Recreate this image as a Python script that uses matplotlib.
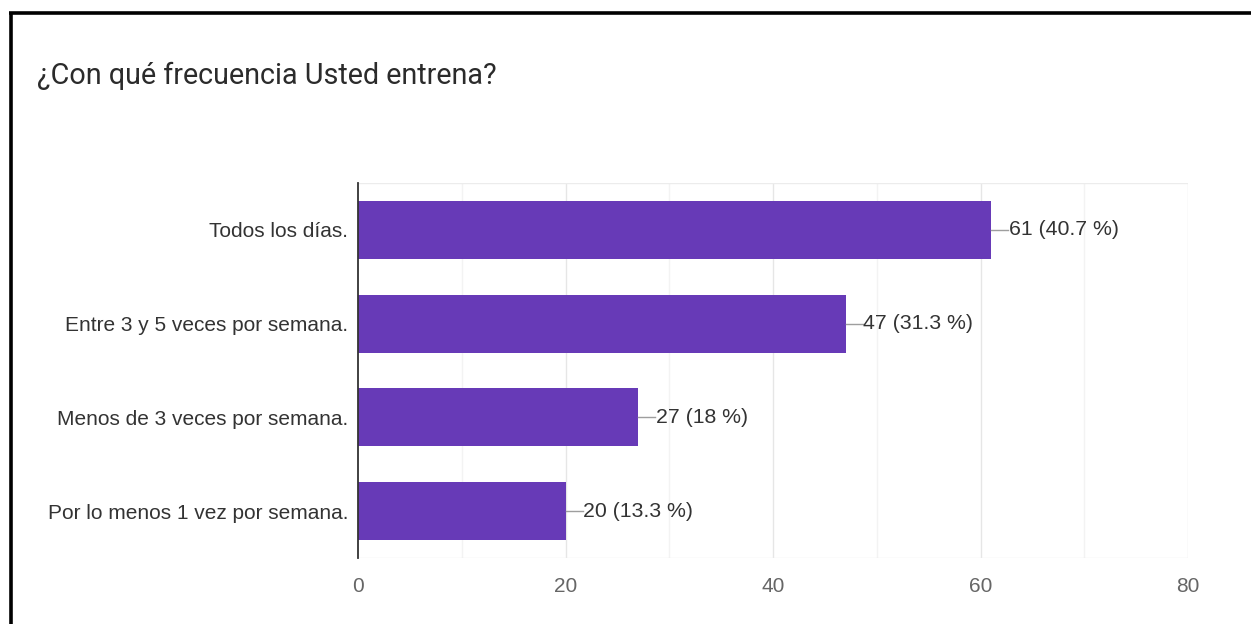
import matplotlib
matplotlib.use("Agg")
import matplotlib.pyplot as plt
from matplotlib.lines import Line2D

# Survey data
title = "¿Con qué frecuencia Usted entrena?"
categories = [
    "Todos los días.",
    "Entre 3 y 5 veces por semana.",
    "Menos de 3 veces por semana.",
    "Por lo menos 1 vez por semana.",
]
counts = [61, 47, 27, 20]
percents = ["40.7", "31.3", "18", "13.3"]
x_ticks = [0, 20, 40, 60, 80]

W, H = 1251, 624
fig = plt.figure(figsize=(W / 100, H / 100), dpi=100)
fig.patch.set_facecolor("white")

# Frame around the card (left and top edges)
fig.add_artist(Line2D([10.5 / W, 10.5 / W], [0, 1 - 11.5 / H], transform=fig.transFigure,
                      color="black", lw=2.6, solid_capstyle="butt"))
fig.add_artist(Line2D([9.2 / W, 1], [1 - 12.5 / H, 1 - 12.5 / H], transform=fig.transFigure,
                      color="black", lw=2.6, solid_capstyle="butt"))

fig.text(37 / W, 1 - 76 / H, title, fontsize=20.7, family="Roboto",
         color="#2b2b2b", va="center", ha="left")

left, right, top, bottom = 358, 1188, 183, 558
ax = fig.add_axes([left / W, 1 - bottom / H, (right - left) / W, (bottom - top) / H])

y = list(range(len(categories)))
ax.barh(y, counts, height=0.62, color="#673ab7", zorder=3)
ax.set_xlim(0, 80)
ax.set_ylim(len(categories) - 0.5, -0.5)

# Grid lines: major every 20, minor every 10
for v in range(10, 81, 10):
    ax.axvline(v, color="#e6e6e6" if v % 20 == 0 else "#f3f3f3", lw=1.0, zorder=1)
ax.axhline(-0.5, color="#ececec", lw=1.0, zorder=1)
ax.axhline(len(categories) - 0.5, color="#ececec", lw=1.0, zorder=1)

for s in ["top", "right", "bottom"]:
    ax.spines[s].set_visible(False)
ax.spines["left"].set_color("#333333")
ax.spines["left"].set_linewidth(1.3)
ax.spines["left"].set_zorder(4)

ax.set_yticks(y)
ax.set_yticklabels(categories, fontsize=15, family="Liberation Sans", color="#333333")
ax.set_xticks(x_ticks)
ax.set_xticklabels([str(t) for t in x_ticks], fontsize=15, family="Liberation Sans", color="#666666")
ax.tick_params(axis="both", length=0)
ax.tick_params(axis="y", pad=7)
ax.tick_params(axis="x", pad=14)

# Value annotations with a short leader line
for yi, c, p in zip(y, counts, percents):
    ax.plot([c, c + 1.65], [yi, yi], color="#9e9e9e", lw=1.0, zorder=3, clip_on=False)
    ax.text(c + 1.7, yi, f"{c} ({p} %)", fontsize=15.3, family="Liberation Sans",
            color="#333333", va="center", ha="left")

fig.savefig("out.png", dpi=100, facecolor="white")
